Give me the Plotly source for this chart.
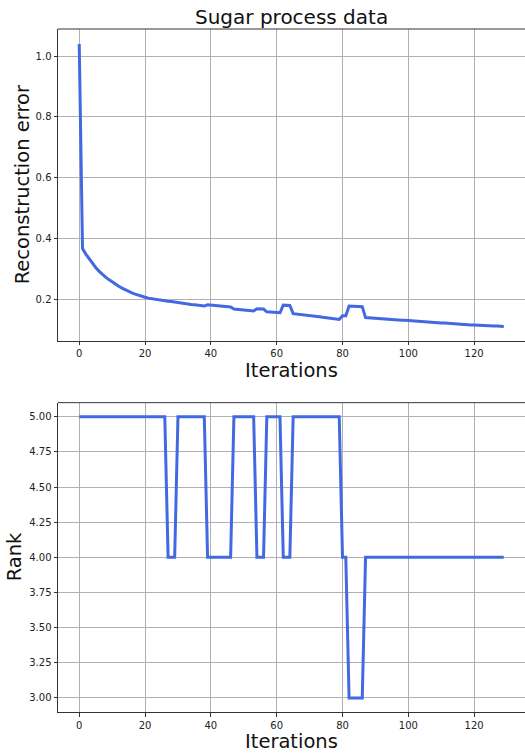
import plotly.graph_objects as go

iterations = list(range(130))

recon_error = [
    1.040, 0.367, 0.349, 0.333, 0.318, 0.305, 0.293, 0.282, 0.273, 0.265,
    0.257, 0.250, 0.243, 0.237, 0.231, 0.226, 0.221, 0.217, 0.213, 0.210,
    0.207, 0.204, 0.202, 0.200, 0.198, 0.197, 0.196, 0.194, 0.193, 0.191,
    0.189, 0.187, 0.186, 0.184, 0.183, 0.182, 0.181, 0.179, 0.178, 0.182,
    0.181, 0.180, 0.179, 0.178, 0.177, 0.176, 0.175, 0.168, 0.167, 0.166,
    0.165, 0.164, 0.163, 0.162, 0.169, 0.169, 0.168, 0.159, 0.158, 0.157,
    0.156, 0.156, 0.181, 0.181, 0.180, 0.153, 0.152, 0.151, 0.149, 0.148,
    0.147, 0.145, 0.144, 0.143, 0.141, 0.140, 0.139, 0.137, 0.136, 0.134,
    0.146, 0.146, 0.178, 0.178, 0.177, 0.177, 0.176, 0.140, 0.139, 0.138,
    0.138, 0.137, 0.136, 0.135, 0.134, 0.134, 0.133, 0.132, 0.131, 0.131,
    0.130, 0.129, 0.128, 0.128, 0.127, 0.126, 0.125, 0.125, 0.124, 0.123,
    0.122, 0.122, 0.121, 0.120, 0.120, 0.119, 0.118, 0.117, 0.117, 0.116,
    0.116, 0.115, 0.115, 0.114, 0.113, 0.113, 0.112, 0.112, 0.111, 0.111,
]

rank = [
    5, 5, 5, 5, 5, 5, 5, 5, 5, 5,
    5, 5, 5, 5, 5, 5, 5, 5, 5, 5,
    5, 5, 5, 5, 5, 5, 5, 4, 4, 4,
    5, 5, 5, 5, 5, 5, 5, 5, 5, 4,
    4, 4, 4, 4, 4, 4, 4, 5, 5, 5,
    5, 5, 5, 5, 4, 4, 4, 5, 5, 5,
    5, 5, 4, 4, 4, 5, 5, 5, 5, 5,
    5, 5, 5, 5, 5, 5, 5, 5, 5, 5,
    4, 4, 3, 3, 3, 3, 3, 4, 4, 4,
    4, 4, 4, 4, 4, 4, 4, 4, 4, 4,
    4, 4, 4, 4, 4, 4, 4, 4, 4, 4,
    4, 4, 4, 4, 4, 4, 4, 4, 4, 4,
    4, 4, 4, 4, 4, 4, 4, 4, 4, 4,
]

x_ticks = [0, 20, 40, 60, 80, 100, 120]
err_ticks = [0.2, 0.4, 0.6, 0.8, 1.0]
rank_ticks = [3.00, 3.25, 3.50, 3.75, 4.00, 4.25, 4.50, 4.75, 5.00]

LINE = "#4169E1"
FONT = "DejaVu Sans"
SPINE = "#333333"
GRID = "#b0b0b0"

TOP_DOM = [0.5436, 1.0]
BOT_DOM = [0.0, 0.4529]

fig = go.Figure()
fig.add_trace(go.Scatter(x=iterations, y=recon_error, mode="lines",
                         line=dict(color=LINE, width=3), xaxis="x", yaxis="y",
                         showlegend=False))
fig.add_trace(go.Scatter(x=iterations, y=rank, mode="lines",
                         line=dict(color=LINE, width=3), xaxis="x2", yaxis="y2",
                         showlegend=False))

axis_common = dict(showline=True, linecolor=SPINE, linewidth=1,
                   showgrid=True, gridcolor=GRID, gridwidth=1,
                   zeroline=False, ticks="outside", ticklen=3.5, tickwidth=1,
                   tickcolor=SPINE, tickfont=dict(family=FONT, size=10, color="#222222"))

fig.update_layout(
    width=525, height=754,
    margin=dict(l=58, r=0, t=29, b=42),
    paper_bgcolor="white", plot_bgcolor="white",
    xaxis=dict(domain=[0, 1], anchor="y", range=[-6.45, 135.45],
               tickvals=x_ticks, **axis_common),
    yaxis=dict(domain=TOP_DOM, anchor="x", range=[0.064, 1.089],
               tickvals=err_ticks, tickformat=".1f", **axis_common),
    xaxis2=dict(domain=[0, 1], anchor="y2", range=[-6.45, 135.45],
                tickvals=x_ticks, **axis_common),
    yaxis2=dict(domain=BOT_DOM, anchor="x2", range=[2.9, 5.1],
                tickvals=rank_ticks, tickformat=".2f", **axis_common),
    font=dict(family=FONT),
)

# top spines
for xr, yr in (("x domain", "y domain"), ("x2 domain", "y2 domain")):
    fig.add_shape(type="line", xref=xr, yref=yr, x0=0, x1=1, y0=1, y1=1,
                  line=dict(color=SPINE, width=1))

title_font = dict(family=FONT, size=20, color="#111111")
label_font = dict(family=FONT, size=19.5, color="#111111")
fig.add_annotation(text="Sugar process data", xref="paper", yref="paper",
                   x=0.5, y=1.0, xanchor="center", yanchor="middle", yshift=12,
                   showarrow=False, font=title_font)
fig.add_annotation(text="Iterations", xref="paper", yref="paper",
                   x=0.5, y=TOP_DOM[0], xanchor="center", yanchor="middle", yshift=-30,
                   showarrow=False, font=label_font)
fig.add_annotation(text="Iterations", xref="paper", yref="paper",
                   x=0.5, y=0.0, xanchor="center", yanchor="bottom", yshift=-42,
                   borderpad=0, showarrow=False, font=label_font)
fig.add_annotation(text="Reconstruction error", xref="paper", yref="paper",
                   x=0.0, y=(TOP_DOM[0] + TOP_DOM[1]) / 2, xanchor="center", yanchor="middle",
                   xshift=-35.5, textangle=-90, showarrow=False, font=label_font)
fig.add_annotation(text="Rank", xref="paper", yref="paper",
                   x=0.0, y=BOT_DOM[1] / 2, xanchor="center", yanchor="middle",
                   xshift=-44, textangle=-90, showarrow=False, font=label_font)

fig.write_html("out.html", config={"displayModeBar": False},
               post_script="document.body.style.margin='0';document.body.style.overflow='hidden';")
